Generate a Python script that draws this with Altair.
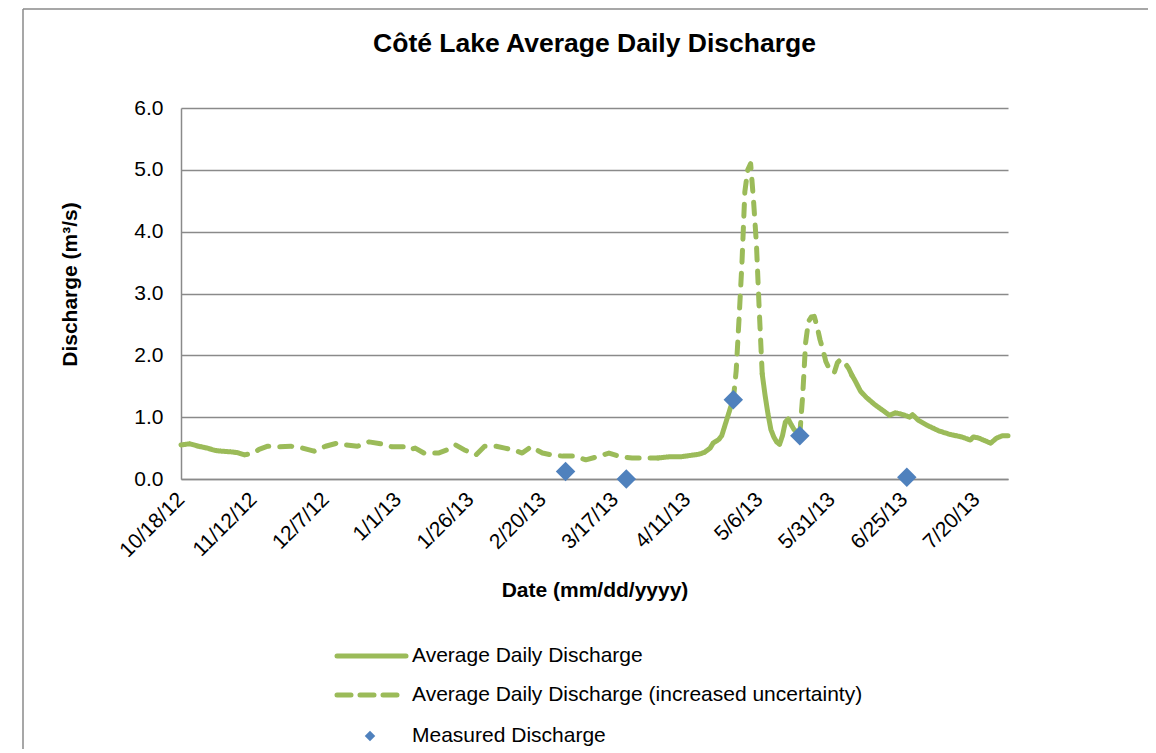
import altair as alt
import pandas as pd

# ---------------- data ----------------
dates = [
    "2012-10-18", "2012-10-21", "2012-10-24", "2012-10-27", "2012-10-30", "2012-11-01",
    "2012-11-04", "2012-11-06", "2012-11-07", "2012-11-09", "2012-11-12", "2012-11-14",
    "2012-11-17", "2012-11-21", "2012-11-25", "2012-11-29", "2012-12-03", "2012-12-07",
    "2012-12-11", "2012-12-14", "2012-12-18", "2012-12-22", "2012-12-26", "2012-12-30",
    "2013-01-03", "2013-01-05", "2013-01-07", "2013-01-10", "2013-01-15", "2013-01-18",
    "2013-01-21", "2013-01-24", "2013-01-28", "2013-01-31", "2013-02-04", "2013-02-07",
    "2013-02-10", "2013-02-13", "2013-02-16", "2013-02-20", "2013-02-23", "2013-02-27",
    "2013-03-03", "2013-03-07", "2013-03-11", "2013-03-15", "2013-03-19", "2013-03-23",
    "2013-03-27", "2013-04-01", "2013-04-05", "2013-04-09", "2013-04-12", "2013-04-15",
    "2013-04-17", "2013-04-19", "2013-04-20", "2013-04-22", "2013-04-23", "2013-04-24",
    "2013-04-25", "2013-04-26", "2013-04-27", "2013-04-28", "2013-04-29", "2013-04-30",
    "2013-05-01", "2013-05-02", "2013-05-03", "2013-05-04", "2013-05-05", "2013-05-06",
    "2013-05-07", "2013-05-08", "2013-05-09", "2013-05-10", "2013-05-11", "2013-05-12",
    "2013-05-13", "2013-05-14", "2013-05-15", "2013-05-16", "2013-05-17", "2013-05-18",
    "2013-05-19", "2013-05-20", "2013-05-21", "2013-05-22", "2013-05-23", "2013-05-24",
    "2013-05-25", "2013-05-26", "2013-05-27", "2013-05-28", "2013-05-29", "2013-05-30",
    "2013-05-31", "2013-06-01", "2013-06-02", "2013-06-03", "2013-06-04", "2013-06-05",
    "2013-06-06", "2013-06-07", "2013-06-08", "2013-06-10", "2013-06-12", "2013-06-15",
    "2013-06-18", "2013-06-20", "2013-06-22", "2013-06-24", "2013-06-26", "2013-06-27",
    "2013-06-28", "2013-06-30", "2013-07-03", "2013-07-07", "2013-07-11", "2013-07-15",
    "2013-07-18", "2013-07-19", "2013-07-21", "2013-07-25", "2013-07-27", "2013-07-29",
    "2013-07-31",
]
discharge = [
    0.55, 0.57, 0.53, 0.50, 0.46, 0.45,
    0.44, 0.43, 0.42, 0.39, 0.42, 0.48,
    0.53, 0.52, 0.53, 0.50, 0.45, 0.53,
    0.58, 0.55, 0.53, 0.60, 0.57, 0.52,
    0.52, 0.47, 0.50, 0.42, 0.42, 0.47,
    0.55, 0.47, 0.39, 0.53, 0.53, 0.50,
    0.47, 0.42, 0.52, 0.42, 0.39, 0.37,
    0.37, 0.31, 0.36, 0.42, 0.36, 0.34,
    0.34, 0.34, 0.36, 0.36, 0.38, 0.40,
    0.43, 0.50, 0.58, 0.64, 0.70, 0.85,
    1.00, 1.15, 1.28, 1.75, 2.60, 3.50,
    4.65, 5.00, 5.10, 4.50, 3.80, 2.70,
    1.70, 1.35, 1.05, 0.80, 0.68, 0.60,
    0.56, 0.70, 0.92, 0.97, 0.88, 0.80,
    0.76, 0.72, 1.35, 2.20, 2.55, 2.62,
    2.63, 2.46, 2.25, 2.09, 1.90, 1.80,
    1.72, 1.73, 1.88, 1.93, 1.92, 1.85,
    1.78, 1.68, 1.60, 1.42, 1.32, 1.20,
    1.10, 1.03, 1.07, 1.05, 1.02, 1.00,
    1.04, 0.95, 0.87, 0.78, 0.72, 0.68,
    0.63, 0.68, 0.66, 0.58, 0.66, 0.70,
    0.70,
]

segment_kinds = ["solid", "dashed", "solid", "dashed", "solid", "dashed", "solid"]
segment_starts = ["2012-10-18", "2012-11-06", "2013-04-01", "2013-04-27",
                  "2013-05-07", "2013-05-20", "2013-06-07"]
segment_ends = ["2012-11-06", "2013-04-01", "2013-04-27", "2013-05-07",
                "2013-05-20", "2013-06-07", "2013-07-31"]

measured_dates = ["2013-02-28", "2013-03-21", "2013-04-27", "2013-05-20", "2013-06-26"]
measured_values = [0.12, 0.00, 1.28, 0.70, 0.03]

tick_dates = ["2012-10-18", "2012-11-12", "2012-12-07", "2013-01-01", "2013-01-26",
              "2013-02-20", "2013-03-17", "2013-04-11", "2013-05-06", "2013-05-31",
              "2013-06-25", "2013-07-20"]
y_ticks = [0, 1, 2, 3, 4, 5, 6]

title_text = "Côté Lake Average Daily Discharge"
x_title = "Date (mm/dd/yyyy)"
y_title = "Discharge (m³/s)"
legend_labels = ["Average Daily Discharge",
                 "Average Daily Discharge (increased uncertainty)",
                 "Measured Discharge"]

GREEN = "#9BBB59"
BLUE = "#4F81BD"
GRID = "#8A8A8A"
FONT = "Liberation Sans"
FS = 21

# ---------------- tables ----------------
series = pd.DataFrame({"date": pd.to_datetime(dates), "q": discharge})
parts = []
for i, (k, s, e) in enumerate(zip(segment_kinds, segment_starts, segment_ends)):
    sub = series[(series["date"] >= pd.Timestamp(s)) & (series["date"] <= pd.Timestamp(e))].copy()
    sub["seg"] = i
    sub["kind"] = k
    parts.append(sub)
lines_df = pd.concat(parts, ignore_index=True)

meas_df = pd.DataFrame({"date": pd.to_datetime(measured_dates), "q": measured_values})


def dt(s):
    y, m, d = (int(v) for v in s.split("-"))
    return alt.DateTime(year=y, month=m, date=d)


x_scale = alt.Scale(domain=[dt(dates[0]), dt(dates[-1])], nice=False)
y_scale = alt.Scale(domain=[0, 6], nice=False)

x_axis = alt.Axis(
    values=[dt(t) for t in tick_dates], format="%-m/%-d/%y", labelAngle=-45,
    labelAlign="right", labelBaseline="middle", labelPadding=17, ticks=False, grid=False,
    labelFontSize=FS, labelFont=FONT, labelColor="black", labelOverlap=False,
    domainColor=GRID, domainWidth=1.5,
    title=x_title, titleFont=FONT, titleFontSize=FS, titleFontWeight="bold",
    titleColor="black", titleX=413.5, titleY=111, titleAlign="center",
    titleBaseline="middle", titleAngle=0,
)
y_axis = alt.Axis(
    values=y_ticks, format=".1f", ticks=False, grid=True, gridColor=GRID, gridWidth=1.5,
    labelPadding=18, labelFontSize=FS, labelFont=FONT, labelColor="black",
    domainColor=GRID, domainWidth=1.5,
    title=y_title, titleFont=FONT, titleFontSize=FS, titleFontWeight="bold",
    titleColor="black", titleX=-111, titleY=176, titleAngle=270, titleAlign="center",
    titleBaseline="middle",
)

base_line = alt.Chart(lines_df).mark_line(strokeWidth=5, strokeCap="round", strokeJoin="round",
                                           color=GREEN).encode(
    x=alt.X("date:T", scale=x_scale, axis=x_axis),
    y=alt.Y("q:Q", scale=y_scale, axis=y_axis),
    detail="seg:N",
    strokeDash=alt.StrokeDash("kind:N", scale=alt.Scale(domain=["solid", "dashed"],
                                                       range=[[1, 0], [12, 11]]), legend=None),
)

points = alt.Chart(meas_df).mark_point(shape="diamond", filled=True, size=380, color=BLUE,
                                       opacity=1).encode(
    x=alt.X("date:T", scale=x_scale),
    y=alt.Y("q:Q", scale=y_scale),
)

one = pd.DataFrame({"a": [0]})

title_mark = alt.Chart(one).mark_text(align="center", baseline="middle", fontSize=26.5,
                                      fontWeight="bold", font=FONT, color="black").encode(
    x=alt.value(413.5), y=alt.value(-64), text=alt.value(title_text))

leg_solid = alt.Chart(one).mark_rule(color=GREEN, strokeWidth=5, strokeCap="round").encode(
    x=alt.value(156), x2=alt.value(225), y=alt.value(548))
leg_dash = alt.Chart(one).mark_rule(color=GREEN, strokeWidth=5, strokeCap="round",
                                    strokeDash=[14, 9]).encode(
    x=alt.value(156), x2=alt.value(218), y=alt.value(587))
leg_diamond = alt.Chart(one).mark_point(shape="diamond", filled=True, size=110, color=BLUE,
                                        opacity=1).encode(x=alt.value(189), y=alt.value(628))
leg_texts = [
    alt.Chart(one).mark_text(align="left", baseline="middle", fontSize=FS, font=FONT,
                             color="black").encode(x=alt.value(231), y=alt.value(yy),
                                                   text=alt.value(lbl))
    for lbl, yy in zip(legend_labels, [548, 587, 628])
]

frame_top = alt.Chart(one).mark_rule(color=GRID, strokeWidth=1.5).encode(
    x=alt.value(-158), x2=alt.value(967), y=alt.value(-99))
frame_left = alt.Chart(one).mark_rule(color=GRID, strokeWidth=1.5).encode(
    x=alt.value(-158), y=alt.value(-99), y2=alt.value(645))

chart = alt.layer(
    frame_top, frame_left, title_mark, base_line, points, leg_solid, leg_dash, leg_diamond,
    *leg_texts
).properties(
    width=827, height=371,
    autosize=alt.AutoSizeParams(type="none"),
    padding={"left": 173, "top": 100, "right": 140, "bottom": 270},
).configure_view(stroke=None)

chart.save("out.html", embed_options={"renderer": "svg", "actions": False})
